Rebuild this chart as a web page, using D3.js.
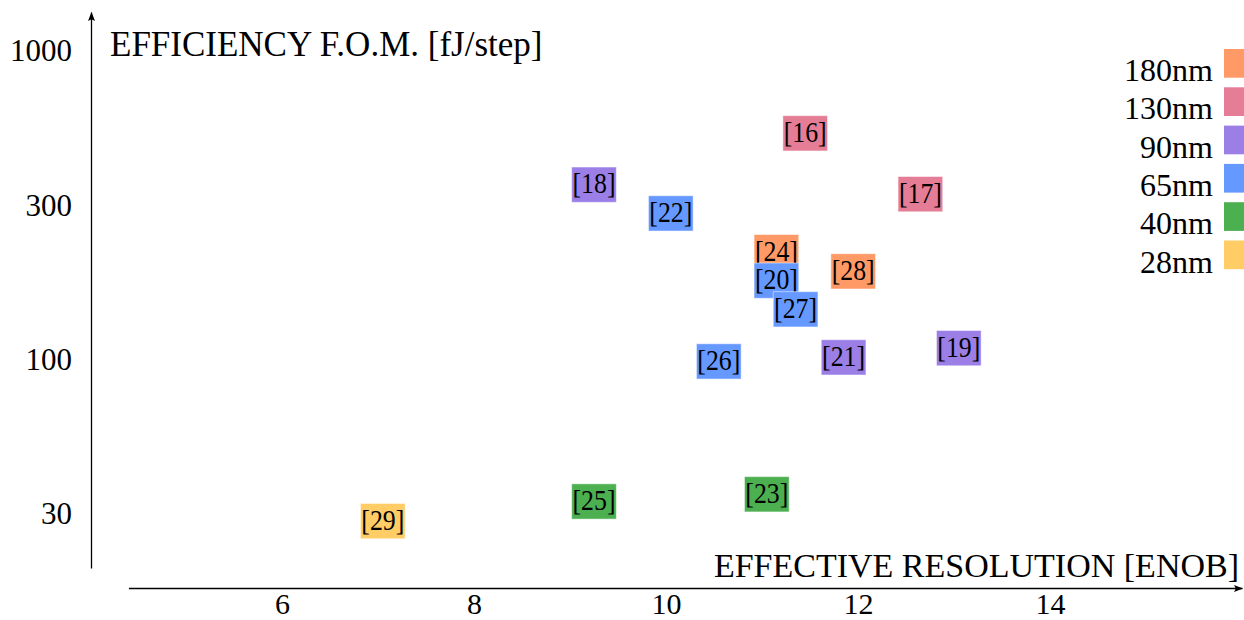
<!DOCTYPE html>
<html>
<head>
<meta charset="utf-8">
<script src="https://cdn.jsdelivr.net/npm/d3@7/dist/d3.min.js"></script>
<style>
  html, body { margin: 0; padding: 0; background: #fff; }
  svg { display: block; }
  text { font-family: "Liberation Serif", "Times New Roman", serif; fill: #000; }
</style>
</head>
<body>
<svg id="chart" width="1244" height="620"></svg>
<script>
// Published ADC designs: reference tag, effective resolution, energy per step, process node
const refs = ["[24]", "[28]", "[16]", "[17]", "[18]", "[19]", "[21]", "[20]", "[22]", "[26]", "[27]", "[23]", "[25]", "[29]"];
const enob = [11.15, 11.95, 11.45, 12.65, 9.25, 13.05, 11.85, 11.15, 10.05, 10.55, 11.35, 11.05, 9.25, 7.05];
const fom  = [221.6, 192.1, 538, 341.7, 366.7, 108.3, 101.1, 179.2, 296, 98.1, 144.7, 36.4, 34.5, 29.8];
const node = ["180nm", "180nm", "130nm", "130nm", "90nm", "90nm", "90nm", "65nm", "65nm", "65nm", "65nm", "40nm", "40nm", "28nm"];

// Process nodes shown in the legend and their fill colours
const nodes  = ["180nm", "130nm", "90nm", "65nm", "40nm", "28nm"];
const colors = ["#FF9966", "#E57D96", "#9B7FE6", "#6699FF", "#4CAF50", "#FFCC66"];

// Axis ticks
const xTicks = [6, 8, 10, 12, 14];
const yTickValues = [1000, 316.23, 100, 31.623];
const yTickLabels = ["1000", "300", "100", "30"];

const svg = d3.select("#chart");

const x = d3.scaleLinear().domain([4.4, 16]).range([128.4, 1242]);
const y = d3.scaleLog().domain([21, 1330]).range([568, 12]);
const color = d3.scaleOrdinal().domain(nodes).range(colors);

// Arrow head for the axis lines
svg.append("defs").append("marker")
  .attr("id", "arrow")
  .attr("viewBox", "0 0 9 7")
  .attr("refX", 8.5).attr("refY", 3.5)
  .attr("markerWidth", 9).attr("markerHeight", 7)
  .attr("markerUnits", "userSpaceOnUse")
  .attr("orient", "auto")
  .append("path")
  .attr("d", "M0,0 L9,3.5 L0,7 L1.8,3.5 Z")
  .attr("fill", "#000");

// X axis
const xAxis = svg.append("g")
  .attr("transform", "translate(0,588)")
  .call(d3.axisBottom(x).tickValues(xTicks).tickSize(0).tickSizeOuter(0).tickFormat(d3.format("d")));
xAxis.select(".domain").attr("stroke", "#000").attr("stroke-width", 1.3).attr("marker-end", "url(#arrow)");
xAxis.selectAll(".tick text")
  .attr("y", 25.5).attr("dy", null)
  .style("font-size", "30px")
  .style("font-family", "'Liberation Serif', serif");

// Y axis (log)
const yAxis = svg.append("g")
  .attr("transform", "translate(91,0)")
  .call(d3.axisLeft(y).tickValues(yTickValues).tickSize(0).tickSizeOuter(0)
    .tickFormat((d, i) => yTickLabels[i]));
yAxis.select(".domain").attr("stroke", "#000").attr("stroke-width", 1.3).attr("marker-end", "url(#arrow)");
yAxis.selectAll(".tick text")
  .attr("x", -19).attr("dy", "0.34em")
  .style("font-size", "31px")
  .style("font-family", "'Liberation Serif', serif");

// Axis titles
svg.append("text")
  .attr("x", 110).attr("y", 56)
  .style("font-size", "35px")
  .text("EFFICIENCY F.O.M. [fJ/step]");

svg.append("text")
  .attr("x", 1239).attr("y", 577)
  .attr("text-anchor", "end")
  .style("font-size", "34px")
  .text("EFFECTIVE RESOLUTION [ENOB]");

// Labelled boxes, one per design
const boxW = 44.7, boxH = 35.3;
const pts = svg.append("g").selectAll("g")
  .data(refs.map((r, i) => ({ ref: r, enob: enob[i], fom: fom[i], node: node[i] })))
  .join("g")
  .attr("transform", d => `translate(${x(d.enob)},${y(d.fom)})`);

pts.append("rect")
  .attr("x", -boxW / 2).attr("y", -boxH / 2)
  .attr("width", boxW).attr("height", boxH)
  .attr("fill", d => color(d.node))
  .attr("stroke", "rgba(255,255,255,0.5)")
  .attr("stroke-width", 1);

pts.append("text")
  .attr("text-anchor", "middle")
  .attr("y", 8.5)
  .attr("textLength", 43)
  .attr("lengthAdjust", "spacingAndGlyphs")
  .style("font-size", "30px")
  .text(d => d.ref);

// Legend
const leg = svg.append("g").selectAll("g")
  .data(nodes)
  .join("g")
  .attr("transform", (d, i) => `translate(0,${i * 38.3})`);

leg.append("rect")
  .attr("x", 1224).attr("y", 49)
  .attr("width", 20).attr("height", 28.7)
  .attr("fill", d => color(d));

leg.append("text")
  .attr("x", 1213).attr("y", 81)
  .attr("text-anchor", "end")
  .style("font-size", "32px")
  .text(d => d);
</script>
</body>
</html>
